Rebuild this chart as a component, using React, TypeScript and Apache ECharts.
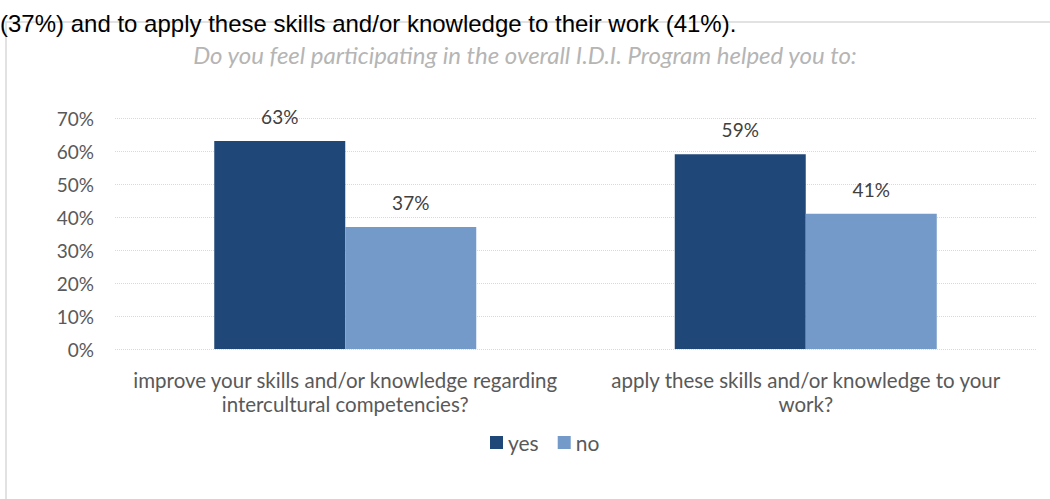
import React, { useEffect, useRef } from "react";
import * as echarts from "echarts";

const categories = [
  "improve your skills and/or knowledge regarding\nintercultural competencies?",
  "apply these skills and/or knowledge to your\nwork?",
];
const seriesNames = ["yes", "no"];
const yesValues = [63, 59];
const noValues = [37, 41];
const yTicks = [0, 10, 20, 30, 40, 50, 60, 70];
const chartTitle = "Do you feel participating in the overall I.D.I. Program helped you to:";
const topText = "(37%) and to apply these skills and/or knowledge to their work (41%).";

const FONT = "Lato, 'Open Sans', sans-serif";

export default function App() {
  const ref = useRef<HTMLDivElement>(null);
  useEffect(() => {
    if (!ref.current) return;
    const chart = echarts.init(ref.current, undefined, { renderer: "svg" });
    const labelStyle = {
      show: true,
      position: "top",
      distance: 15,
      formatter: "{c}%",
      fontFamily: FONT,
      fontSize: 19,
      color: "#404040",
    };
    chart.setOption({
      animation: false,
      backgroundColor: "#ffffff",
      title: {
        text: chartTitle,
        left: "center",
        top: 37,
        textStyle: {
          fontFamily: FONT,
          fontStyle: "italic",
          fontWeight: "normal",
          fontSize: 24,
          color: "#B5B5B5",
        },
      },
      graphic: [
        {
          type: "rect",
          shape: { x: 6, y: 22, width: 1200, height: 700 },
          style: { fill: "none", stroke: "#D9D9D9", lineWidth: 1.5 },
          silent: true,
        },
        {
          type: "text",
          x: 0,
          y: 11,
          style: {
            text: topText,
            font: "24px 'Liberation Sans', Arial, sans-serif",
            fill: "#000000",
            textBaseline: "alphabetic",
          },
          silent: true,
        },
      ],
      legend: {
        data: seriesNames,
        left: 485,
        top: 427,
        icon: "rect",
        itemWidth: 13,
        itemHeight: 13,
        itemGap: 19,
        textStyle: { fontFamily: FONT, fontSize: 21, color: "#595959" },
      },
      grid: { left: 115, right: 14, top: 118, bottom: 150, containLabel: false },
      xAxis: {
        type: "category",
        data: categories,
        axisLine: { show: false },
        axisTick: { show: false },
        axisLabel: {
          interval: 0,
          margin: 19,
          fontFamily: FONT,
          fontSize: 20.5,
          lineHeight: 24,
          color: "#595959",
          align: "center",
        },
      },
      yAxis: {
        type: "value",
        min: yTicks[0],
        max: yTicks[yTicks.length - 1],
        interval: 10,
        axisLine: { show: false },
        axisTick: { show: false },
        axisLabel: {
          formatter: "{value}%",
          margin: 21,
          fontFamily: FONT,
          fontSize: 19,
          color: "#595959",
        },
        splitLine: { lineStyle: { color: "#D9D9D9", type: "dotted", width: 1 } },
      },
      series: [
        {
          name: seriesNames[0],
          type: "bar",
          data: yesValues,
          barWidth: 131,
          barGap: "0%",
          itemStyle: { color: "#1F4878" },
          label: labelStyle,
        },
        {
          name: seriesNames[1],
          type: "bar",
          data: noValues,
          barWidth: 131,
          barGap: "0%",
          itemStyle: { color: "#739AC9" },
          label: labelStyle,
        },
      ],
    });
    return () => chart.dispose();
  }, []);
  return (
    <div
      ref={ref}
      style={{ position: "fixed", left: 0, top: 0, width: 1050, height: 499 }}
    />
  );
}
